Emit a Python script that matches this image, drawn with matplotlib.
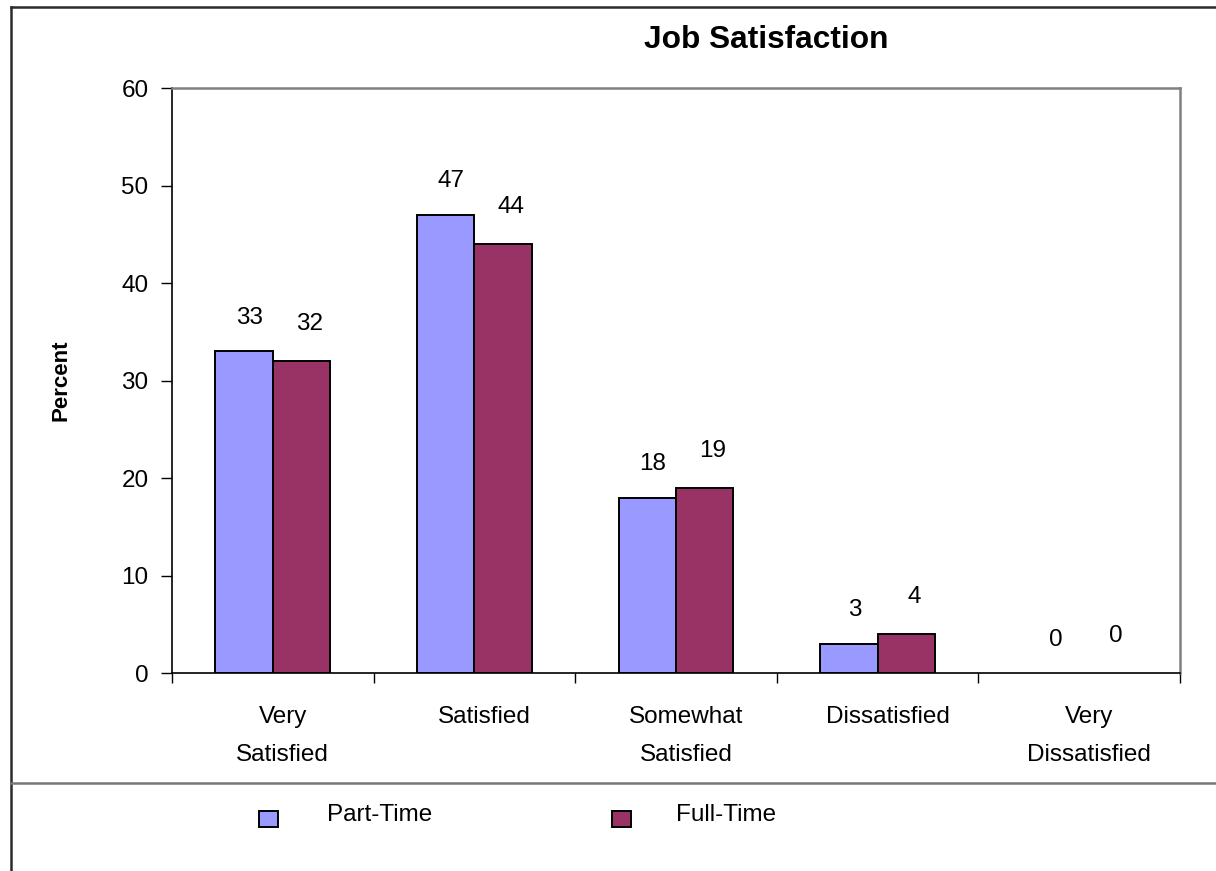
import matplotlib
matplotlib.use("Agg")
import matplotlib.pyplot as plt
import matplotlib.transforms as mtransforms
from matplotlib.lines import Line2D
from matplotlib.patches import Rectangle
import numpy as np

# Survey results (percent)
categories = ["Very\nSatisfied", "Satisfied", "Somewhat\nSatisfied", "Dissatisfied", "Very\nDissatisfied"]
part_time = [33, 47, 18, 3, 0]
full_time = [32, 44, 19, 4, 0]
series_names = ["Part-Time", "Full-Time"]
y_ticks = [0, 10, 20, 30, 40, 50, 60]

PART_COLOR = "#9999FF"
FULL_COLOR = "#993366"

plt.rcParams["font.family"] = ["Liberation Sans", "DejaVu Sans"]

W, H = 1216, 871
fig = plt.figure(figsize=(W / 100, H / 100), dpi=100)

ax_left, ax_right, ax_top, ax_bottom = 172, 1180, 88, 673
ax = fig.add_axes([ax_left / W, 1 - ax_bottom / H, (ax_right - ax_left) / W, (ax_bottom - ax_top) / H])

x = np.arange(len(categories))
w = 0.285
bars_p = ax.bar(x - w / 2, part_time, w, color=PART_COLOR, edgecolor="black", linewidth=1.4, zorder=3)
bars_f = ax.bar(x + w / 2, full_time, w, color=FULL_COLOR, edgecolor="black", linewidth=1.4, zorder=3)
for bar in list(bars_p) + list(bars_f):
    if bar.get_height() == 0:
        bar.set_edgecolor("none")

for xi, v in zip(x, part_time):
    ax.annotate(str(v), (xi - w / 2, v), xytext=(4, 24), textcoords="offset points",
                ha="center", va="center", fontsize=17.5)
for xi, v in zip(x, full_time):
    ax.annotate(str(v), (xi + w / 2, v), xytext=(6, 26.5), textcoords="offset points",
                ha="center", va="center", fontsize=17.5)

ax.set_xlim(-0.5, len(categories) - 0.5)
ax.set_ylim(0, 60)
ax.set_yticks(y_ticks)
ax.tick_params(axis="y", direction="out", length=8, width=1, pad=9, labelsize=17.5)

# Ticks at category boundaries, labels centred under each group
ax.set_xticks(np.arange(len(categories) + 1) - 0.5)
ax.set_xticklabels([])
ax.set_xticks(x, minor=True)
ax.set_xticklabels(categories, minor=True, fontsize=17.5, linespacing=1.98, va="top")
ax.tick_params(axis="x", which="major", direction="out", length=7, width=1)
ax.tick_params(axis="x", which="minor", length=0, pad=23.5)
shift = mtransforms.ScaledTranslation(10 / 100, 0, fig.dpi_scale_trans)
for lbl in ax.get_xticklabels(minor=True):
    lbl.set_transform(lbl.get_transform() + shift)

for side in ("left", "bottom"):
    ax.spines[side].set_color("black")
    ax.spines[side].set_linewidth(1.2)
for side in ("top", "right"):
    ax.spines[side].set_color("#808080")
    ax.spines[side].set_linewidth(1.8)

ax.set_ylabel("Percent", fontsize=16, fontweight="bold", labelpad=36)

fig.text(766 / W, 1 - 40 / H, "Job Satisfaction", ha="center", va="center",
         fontsize=22.8, fontweight="bold")

# Chart area frame and legend separator
fig.add_artist(Line2D([11 / W, 11 / W], [0, 1 - 7 / H], color="#2b2b2b", lw=1.8))
fig.add_artist(Line2D([11 / W, 1], [1 - 7 / H, 1 - 7 / H], color="#2b2b2b", lw=1.8))
fig.add_artist(Line2D([11 / W, 1], [1 - 783 / H, 1 - 783 / H], color="#777777", lw=1.8))

# Legend
legend_items = [(259, 327, PART_COLOR), (612, 676, FULL_COLOR)]
for (bx, tx, col), name in zip(legend_items, series_names):
    fig.add_artist(Rectangle((bx / W, 1 - 827 / H), 19 / W, 16 / H, facecolor=col,
                             edgecolor="black", linewidth=1.4, transform=fig.transFigure))
    fig.text(tx / W, 1 - 815 / H, name, ha="left", va="center", fontsize=17.5)

fig.savefig("out.png", dpi=100, facecolor="white")
